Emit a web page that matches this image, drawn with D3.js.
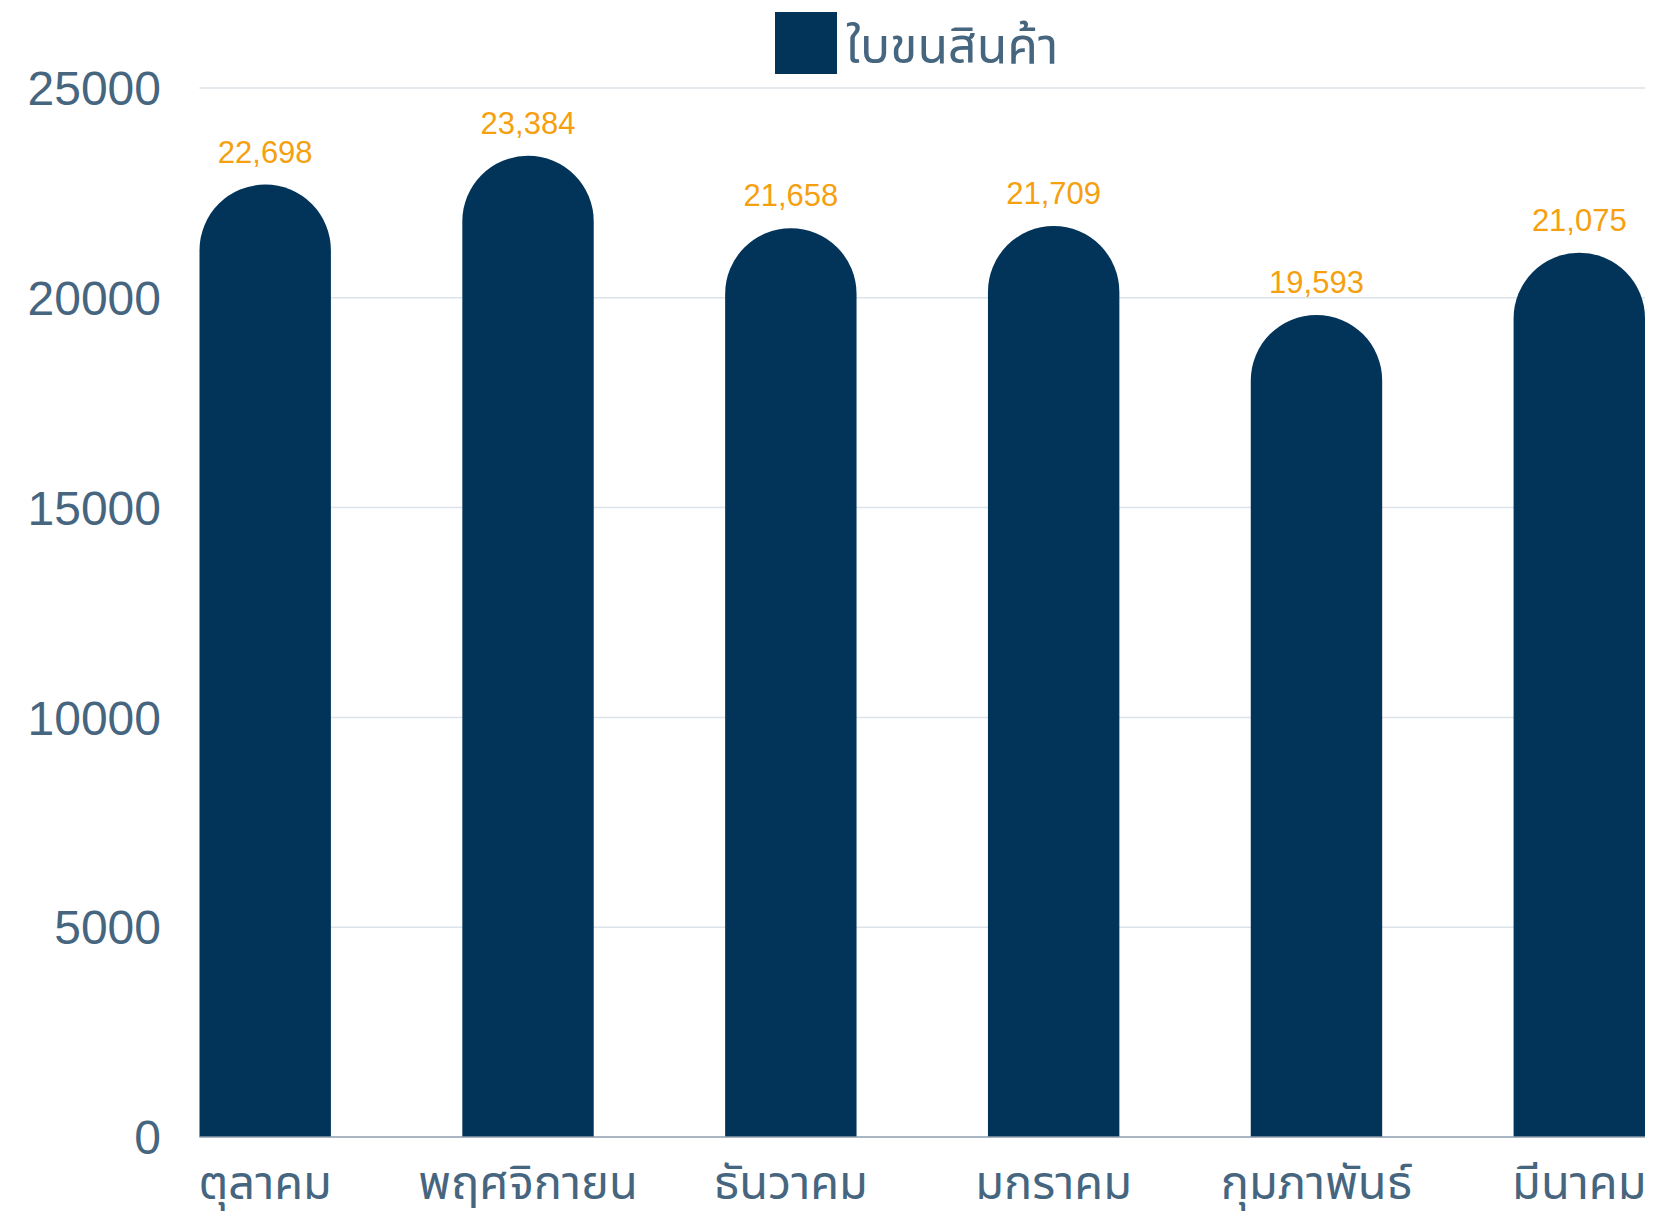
<!DOCTYPE html>
<html>
<head>
<meta charset="utf-8">
<script src="https://cdn.jsdelivr.net/npm/d3@7"></script>
<style>
  html, body { margin: 0; padding: 0; background: #fff; }
  svg { display: block; }
</style>
</head>
<body>
<div id="chart"></div>
<script>
const months = ["ตุลาคม", "พฤศจิกายน", "ธันวาคม", "มกราคม", "กุมภาพันธ์", "มีนาคม"]
const values = [22698, 23384, 21658, 21709, 19593, 21075]
const yTicks = [0, 5000, 10000, 15000, 20000, 25000]
const seriesName = "ใบขนสินค้า"

const width = 1656
const height = 1220
const margin = { top: 88, right: 11, bottom: 83, left: 199.5 }

const barColor = "#02345a"
const textColor = "#46657f"
const labelColor = "#f5a00f"
const thaiFont = "'Noto Sans Thai', 'Noto Sans Thai Looped', 'Noto Sans', sans-serif"
const numFont = "'Liberation Sans', Arial, sans-serif"

const svg = d3.select("#chart")
  .append("svg")
    .attr("width", width)
    .attr("height", height)

const x = d3.scaleBand()
  .domain(months)
  .range([margin.left, width - margin.right])
  .paddingInner(0.5)
  .paddingOuter(0)

const y = d3.scaleLinear()
  .domain([0, 25000])
  .range([height - margin.bottom, margin.top])

// gridlines
svg.append("g")
  .selectAll("line")
  .data(yTicks.filter(d => d > 0))
  .join("line")
    .attr("x1", margin.left)
    .attr("x2", width - margin.right)
    .attr("y1", d => y(d))
    .attr("y2", d => y(d))
    .attr("stroke", "#dde3ea")
    .attr("stroke-width", 1.5)

// y tick labels
svg.append("g")
  .selectAll("text")
  .data(yTicks)
  .join("text")
    .attr("x", 161)
    .attr("y", d => y(d))
    .attr("dy", "0.36em")
    .attr("text-anchor", "end")
    .attr("font-family", numFont)
    .attr("font-size", 48)
    .attr("fill", textColor)
    .text(d => d)

// bars with round tops
const r = x.bandwidth() / 2
const barPath = (d, i) => {
  const x0 = x(months[i])
  const x1 = x0 + x.bandwidth()
  const top = y(d)
  const base = y(0)
  return `M${x0},${base} L${x0},${top + r} A${r},${r} 0 0 1 ${x1},${top + r} L${x1},${base} Z`
}

svg.append("g")
  .selectAll("path")
  .data(values)
  .join("path")
    .attr("d", barPath)
    .attr("fill", barColor)

// baseline
svg.append("line")
  .attr("x1", margin.left)
  .attr("x2", width - margin.right)
  .attr("y1", y(0))
  .attr("y2", y(0))
  .attr("stroke", "#8c9cad")
  .attr("stroke-width", 1.5)

// value labels
svg.append("g")
  .selectAll("text")
  .data(values)
  .join("text")
    .attr("x", (d, i) => x(months[i]) + x.bandwidth() / 2)
    .attr("y", d => y(d) - 22)
    .attr("text-anchor", "middle")
    .attr("font-family", numFont)
    .attr("font-size", 31)
    .attr("fill", labelColor)
    .text(d => d3.format(",")(d))

// x labels
svg.append("g")
  .selectAll("text")
  .data(months)
  .join("text")
    .attr("x", d => x(d) + x.bandwidth() / 2)
    .attr("y", 1199)
    .attr("text-anchor", "middle")
    .attr("font-family", thaiFont)
    .attr("font-size", 47)
    .attr("fill", textColor)
    .text(d => d)

// legend
const legend = svg.append("g")
legend.append("rect")
  .attr("x", 775)
  .attr("y", 12)
  .attr("width", 62)
  .attr("height", 62)
  .attr("fill", barColor)
legend.append("text")
  .attr("x", 846)
  .attr("y", 63)
  .attr("font-family", thaiFont)
  .attr("font-size", 50)
  .attr("fill", textColor)
  .text(seriesName)
</script>
</body>
</html>
